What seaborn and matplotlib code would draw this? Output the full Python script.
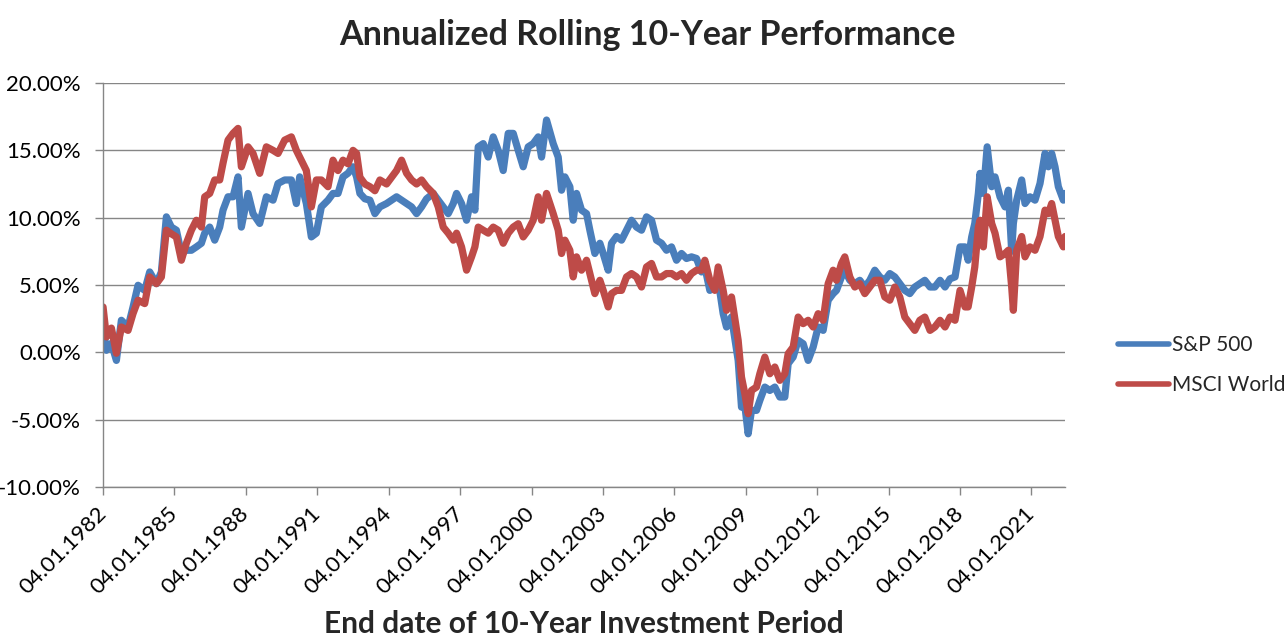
import matplotlib
matplotlib.use('Agg')
import matplotlib.pyplot as plt
import matplotlib.ticker as mticker
import seaborn as sns
import pandas as pd
import numpy as np

# end date of each 10-year window, as decimal years
years = [
    1982.00, 1982.14, 1982.35, 1982.56, 1982.77, 1983.05, 1983.26, 1983.47, 1983.75, 1983.96,
    1984.24, 1984.45, 1984.66, 1984.87, 1985.08, 1985.29, 1985.50, 1985.71, 1985.92, 1986.13,
    1986.27, 1986.48, 1986.69, 1986.90, 1987.04, 1987.25, 1987.46, 1987.67, 1987.81, 1988.09,
    1988.30, 1988.58, 1988.86, 1989.14, 1989.35, 1989.63, 1989.91, 1990.12, 1990.26, 1990.54,
    1990.75, 1990.96, 1991.17, 1991.45, 1991.66,
    1991.87, 1992.08, 1992.29, 1992.50, 1992.65, 1992.79, 1993.00, 1993.21, 1993.42, 1993.63,
    1993.91, 1994.12, 1994.33, 1994.54, 1994.75, 1994.96, 1995.17, 1995.38, 1995.59, 1995.87,
    1996.08, 1996.29, 1996.50, 1996.71, 1996.85, 1997.06, 1997.27, 1997.48, 1997.62, 1997.76,
    1997.97, 1998.18, 1998.39, 1998.60, 1998.81, 1999.02, 1999.23, 1999.44, 1999.65, 1999.86,
    2000.07, 2000.28, 2000.42, 2000.63,
    2000.91, 2001.12, 2001.26, 2001.40, 2001.61, 2001.75, 2001.89, 2002.10, 2002.31, 2002.45,
    2002.66, 2002.87, 2003.01, 2003.22, 2003.36, 2003.57, 2003.78, 2003.99, 2004.20, 2004.41,
    2004.62, 2004.83, 2005.04, 2005.25, 2005.46, 2005.67, 2005.88, 2006.09, 2006.30, 2006.51,
    2006.72, 2006.93, 2007.14, 2007.28, 2007.49, 2007.70, 2007.84, 2008.05, 2008.19, 2008.40,
    2008.68, 2008.82, 2008.96, 2009.10, 2009.24, 2009.45, 2009.59, 2009.80, 2010.01, 2010.22,
    2010.43, 2010.64, 2010.78, 2010.99, 2011.20, 2011.41, 2011.62, 2011.83, 2012.04, 2012.25,
    2012.46, 2012.67, 2012.81, 2013.02, 2013.16, 2013.37, 2013.58, 2013.79, 2014.00, 2014.21,
    2014.42, 2014.63, 2014.84, 2015.05, 2015.26, 2015.47, 2015.68, 2015.89, 2016.10, 2016.31,
    2016.52, 2016.74,
    2016.94, 2017.16, 2017.37, 2017.58, 2017.79, 2018.00, 2018.21, 2018.34, 2018.49, 2018.62,
    2018.77, 2018.84, 2018.98, 2019.14, 2019.33, 2019.47, 2019.68, 2019.89, 2020.03, 2020.17,
    2020.24, 2020.38, 2020.59, 2020.73, 2020.94, 2021.15, 2021.36, 2021.57, 2021.71, 2021.85,
    2021.99, 2022.13, 2022.34, 2022.41,
]

# annualized rolling 10-year return, %
sp500 = [
    1.88, 0.15, 0.67, -0.6, 2.38, 1.88, 3.37, 4.98, 4.6, 5.97,
    5.1, 5.97, 10.06, 9.3, 9.07, 7.36, 7.58, 7.58, 7.83, 8.1,
    8.85, 9.3, 8.33, 9.3, 10.56, 11.55, 11.55, 13.03, 9.3, 11.8,
    10.3, 9.57, 11.55, 11.3, 12.54, 12.8, 12.8, 11.05, 13.03, 11.05,
    8.57, 8.85, 10.8, 11.3, 11.8,
    11.8, 13.03, 13.3, 13.78, 13.03, 11.8, 11.4, 11.3, 10.3, 10.8,
    11.05, 11.3, 11.55, 11.3, 11.05, 10.8, 10.3, 10.8, 11.4, 11.8,
    11.3, 10.8, 10.3, 11.05, 11.8, 11.05, 9.81, 11.55, 10.56, 15.26,
    15.5, 14.5, 16.0, 15.0, 13.5, 16.26, 16.26, 15.0, 13.78, 15.26,
    15.5, 16.0, 14.5, 17.25,
    15.5, 14.5, 12.04, 13.03, 12.3, 9.81, 11.8, 10.56, 10.3, 9.07,
    7.34, 8.1, 7.34, 6.1, 8.1, 8.6, 8.33, 9.07, 9.81, 9.3,
    9.07, 10.06, 9.81, 8.33, 8.1, 7.58, 7.83, 6.84, 7.34, 6.97,
    7.09, 6.97, 5.97, 6.34, 4.6, 4.85, 5.35, 2.87, 1.88, 2.63,
    -0.6, -4.07, -3.95, -6.05, -4.31, -4.31, -3.57, -2.58, -2.83, -2.58,
    -3.32, -3.32, -0.84, -0.35, 0.89, 0.64, -0.6, 0.39, 1.88, 1.63,
    3.87, 4.36, 4.6, 5.6, 6.1, 5.35, 5.1, 5.35, 4.85, 5.35,
    6.1, 5.6, 5.35, 5.85, 5.6, 5.1, 4.6, 4.36, 4.85, 5.1,
    5.35, 4.85,
    4.85, 5.35, 4.85, 5.46, 5.6, 7.83, 7.83, 6.84, 8.57, 9.57,
    11.8, 13.29, 11.8, 15.26, 12.3, 13.03, 11.55, 10.8, 12.04, 7.5,
    9.57, 11.3, 12.8, 11.05, 11.55, 11.3, 12.54, 14.77, 13.78, 14.77,
    13.78, 12.3, 11.3, 11.8,
]

msci_world = [
    3.37, 1.14, 1.8, -0.07, 1.88, 1.63, 2.88, 3.87, 3.62, 5.6,
    5.1, 5.6, 9.07, 8.8, 8.57, 6.84, 8.1, 9.07, 9.81, 9.3,
    11.55, 11.8, 12.8, 12.8, 14.05, 15.76, 16.26, 16.63, 13.78, 15.26,
    14.77, 13.29, 15.26, 15.0, 14.77, 15.76, 16.0, 15.0, 14.5, 13.5,
    10.8, 12.8, 12.8, 12.3, 14.27,
    13.5, 14.27, 14.0, 15.0, 14.77, 13.0, 12.5, 12.3, 12.0, 12.8,
    12.5, 13.0, 13.5, 14.27, 13.3, 12.8, 12.5, 12.8, 12.3, 11.8,
    10.8, 9.3, 8.85, 8.33, 8.85, 7.83, 6.1, 7.09, 7.83, 9.3,
    9.07, 8.85, 9.3, 9.07, 8.1, 8.85, 9.3, 9.55, 8.57, 9.07,
    9.81, 11.55, 9.81, 11.8,
    10.3, 9.07, 7.34, 8.33, 7.58, 5.6, 7.09, 6.1, 6.84, 5.85,
    4.36, 5.35, 4.6, 3.37, 4.36, 4.6, 4.6, 5.6, 5.85, 5.6,
    4.85, 6.34, 6.6, 5.6, 5.6, 5.85, 5.85, 5.6, 5.85, 5.35,
    5.85, 6.1, 6.1, 6.84, 5.35, 4.6, 6.34, 4.6, 3.12, 4.11,
    0.89, -1.84, -3.07, -4.56, -2.83, -2.58, -1.59, -0.35, -1.59, -1.09,
    -2.08, -1.59, -0.1, 0.39, 2.62, 2.13, 2.38, 1.88, 2.87, 2.38,
    5.1, 6.1, 5.35, 6.6, 7.09, 5.6, 4.85, 5.1, 4.36, 4.85,
    5.35, 5.35, 4.11, 3.87, 4.85, 4.11, 2.62, 2.13, 1.63, 2.38,
    2.62, 1.63,
    1.88, 2.38, 1.88, 2.62, 2.38, 4.6, 3.37, 3.37, 4.85, 6.34,
    9.3, 9.81, 7.83, 11.55, 9.57, 8.85, 7.09, 7.34, 7.58, 4.85,
    3.12, 7.58, 8.6, 7.09, 7.83, 7.58, 8.6, 10.56, 10.3, 11.05,
    9.81, 8.6, 7.83, 8.6,
]

tick_dates = ['1982-01-04', '1985-01-04', '1988-01-04', '1991-01-04', '1994-01-04',
              '1997-01-04', '2000-01-04', '2003-01-04', '2006-01-04', '2009-01-04',
              '2012-01-04', '2015-01-04', '2018-01-04', '2021-01-04']

series_names = ['S&P 500', 'MSCI World']
colors = ['#4A7EBB', '#BE4B48']

sns.set_theme(style='white')
plt.rcParams['font.family'] = ['Lato', 'DejaVu Sans']

dates = pd.Timestamp('1982-01-04') + pd.to_timedelta((np.array(years) - 1982.0) * 365.25, unit='D')
df = pd.concat([
    pd.DataFrame({'date': dates, 'value': sp500, 'series': series_names[0]}),
    pd.DataFrame({'date': dates, 'value': msci_world, 'series': series_names[1]}),
])

fig = plt.figure(figsize=(12.85, 6.44), dpi=100)
ax = fig.add_axes([0.0802, 0.2438, 0.7486, 0.6273])

sns.lineplot(data=df, x='date', y='value', hue='series', hue_order=series_names,
             palette=colors, linewidth=5.2, ax=ax)

ax.set_ylim(-10, 20)
ax.set_yticks(range(-10, 21, 5))
ax.yaxis.set_major_formatter(mticker.FuncFormatter(lambda v, p: f'{v:.2f}%'))
ax.set_xlim(dates[0], dates[-1])
ticks = pd.to_datetime(tick_dates)
ax.set_xticks(ticks)
ax.set_xticklabels([t.strftime('%d.%m.%Y') for t in ticks], rotation=45, ha='right',
                   va='center', rotation_mode='anchor')

ax.yaxis.grid(True, color='#868686', linewidth=1)
ax.xaxis.grid(False)
for s in ['top', 'right']:
    ax.spines[s].set_visible(False)
for s in ['left', 'bottom']:
    ax.spines[s].set_color('#868686')
    ax.spines[s].set_linewidth(1)
ax.tick_params(axis='both', direction='out', length=6, width=1, color='#868686',
               labelsize=16, labelcolor='black')
ax.tick_params(axis='x', bottom=True, pad=11)
ax.tick_params(axis='y', left=True, pad=10)

ax.set_ylabel('')
ax.set_xlabel('End date of 10-Year Investment Period', fontsize=21.5, fontweight='bold')
ax.xaxis.set_label_coords(0.5, -0.305)

fig.text(0.504, 0.946, 'Annualized Rolling 10-Year Performance', ha='center', va='center',
         fontsize=24.5, fontweight='bold')

sns.move_legend(ax, 'center left', bbox_to_anchor=(0.870, 0.433),
                bbox_transform=fig.transFigure, frameon=False, title=None,
                fontsize=15, handlelength=2.45, handletextpad=0.15, labelspacing=0.95,
                borderpad=0, borderaxespad=0)
for h in ax.get_legend().get_lines():
    h.set_linewidth(4)

fig.savefig('out.png', dpi=100)
